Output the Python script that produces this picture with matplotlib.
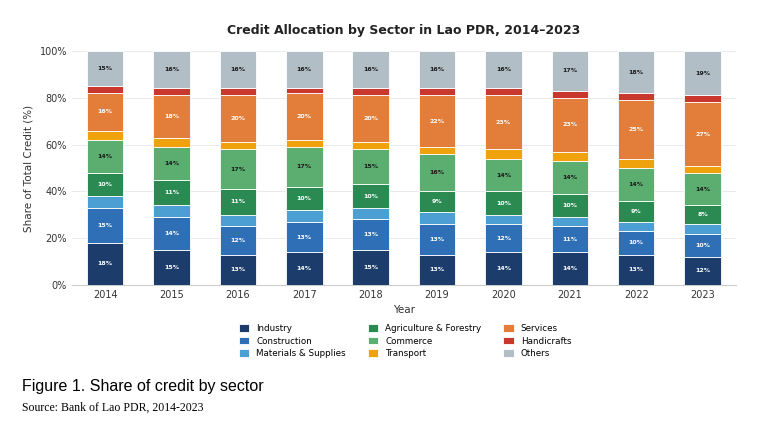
import matplotlib
matplotlib.use("Agg")
import matplotlib.pyplot as plt
import numpy as np

years = [2014, 2015, 2016, 2017, 2018, 2019, 2020, 2021, 2022, 2023]
sectors = ["Industry", "Construction", "Materials & Supplies", "Agriculture & Forestry",
           "Commerce", "Transport", "Services", "Handicrafts", "Others"]
industry     = [18, 15, 13, 14, 15, 13, 14, 14, 13, 12]
construction = [15, 14, 12, 13, 13, 13, 12, 11, 10, 10]
materials    = [5, 5, 5, 5, 5, 5, 4, 4, 4, 4]
agriculture  = [10, 11, 11, 10, 10, 9, 10, 10, 9, 8]
commerce     = [14, 14, 17, 17, 15, 16, 14, 14, 14, 14]
transport    = [4, 4, 3, 3, 3, 3, 4, 4, 4, 3]
services     = [16, 18, 20, 20, 20, 22, 23, 23, 25, 27]
handicrafts  = [3, 3, 3, 2, 3, 3, 3, 3, 3, 3]
others       = [15, 16, 16, 16, 16, 16, 16, 17, 18, 19]
series = [industry, construction, materials, agriculture, commerce, transport, services, handicrafts, others]
colors = ["#1c3d6b", "#2e6fb5", "#4c9fd3", "#2a8a52", "#5bae6f", "#f0a20c", "#e27d3a", "#c8382c", "#b2bec6"]
label_color = ["white", "white", "white", "white", "#1a1a1a", "#1a1a1a", "white", "white", "#1a1a1a"]

fig = plt.figure(figsize=(7.57, 4.21), dpi=100)
ax = fig.add_axes([0.095, 0.323, 0.877, 0.556])
x = np.arange(len(years))
bottom = np.zeros(len(years))
for name, vals, c, lc in zip(sectors, series, colors, label_color):
    vals = np.array(vals, dtype=float)
    ax.bar(x, vals, 0.55, bottom=bottom, color=c, label=name, edgecolor="white", linewidth=0.6, zorder=3)
    for xi, b, v in zip(x, bottom, vals):
        if v >= 8:
            ax.text(xi, b + v / 2, f"{int(v)}%", ha="center", va="center", fontsize=4.5,
                    fontweight="bold", color=lc, zorder=4)
    bottom += vals

ax.set_ylim(0, 100)
ax.set_xlim(-0.5, len(years) - 0.5)
ax.set_xticks(x)
ax.set_xticklabels([str(y) for y in years], fontsize=7, color="#333333")
ax.set_yticks(range(0, 101, 20))
ax.set_yticklabels([f"{v}%" for v in range(0, 101, 20)], fontsize=7, color="#333333")
ax.grid(axis="y", color="#e6e6e6", linewidth=0.6, zorder=0)
for s in ["top", "right", "left"]:
    ax.spines[s].set_visible(False)
ax.spines["bottom"].set_color("#cccccc")
ax.tick_params(length=0)
ax.set_xlabel("Year", fontsize=7.5, color="#333333")
ax.set_ylabel("Share of Total Credit (%)", fontsize=7.5, color="#333333")
ax.set_title("Credit Allocation by Sector in Lao PDR, 2014–2023", fontsize=9, fontweight="bold",
             color="#222222", pad=12)

h, l = ax.get_legend_handles_labels()
fig.legend(h, l, loc="center", bbox_to_anchor=(0.535, 0.19), ncol=3, frameon=False, fontsize=6.3,
           handlelength=1.2, handleheight=0.9, columnspacing=2.5, labelspacing=0.4)

fig.text(0.029, 0.072, "Figure 1. Share of credit by sector", fontsize=11.5, family="Liberation Sans", color="black")
fig.text(0.029, 0.025, "Source: Bank of Lao PDR, 2014-2023", fontsize=8.5, family="Liberation Serif", color="black")

fig.savefig("out.png", dpi=100)
